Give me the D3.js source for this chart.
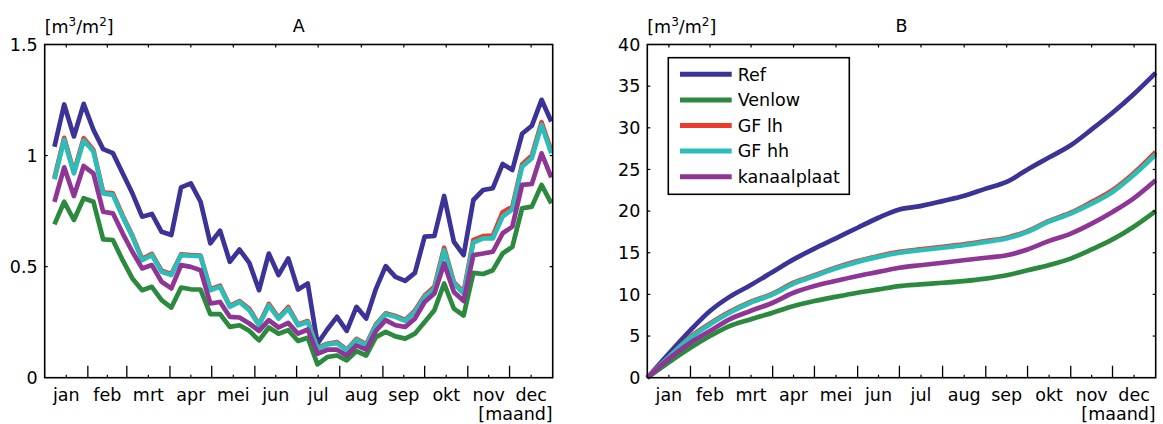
<!DOCTYPE html>
<html>
<head>
<meta charset="utf-8">
<script src="https://cdn.jsdelivr.net/npm/d3@7"></script>
<style>
  body { margin: 0; background: #fff; }
  svg { display: block; font-family: "DejaVu Sans", Verdana, sans-serif; }
</style>
</head>
<body>
<svg id="chart" width="1163" height="424"></svg>
<script>
// maanden
const months = ['jan', 'feb', 'mrt', 'apr', 'mei', 'jun', 'jul', 'aug', 'sep', 'okt', 'nov', 'dec'];
const monthEdges = [0, 31, 59, 90, 120, 151, 181, 212, 243, 273, 304, 334, 365];

const seriesNames = ['Ref', 'Venlow', 'GF lh', 'GF hh', 'kanaalplaat'];
const seriesColors = ['#3b3397', '#2b8a3e', '#ee3a2b', '#2dbdb8', '#8e3595'];

// A: weekwaarden [m3/m2], week 1..52
const weekDays = d3.range(1, 53).map(k => 7 * k);
const refWeek = [1.04, 1.23, 1.086, 1.233, 1.116, 1.029, 1.011, 0.92, 0.83, 0.725,
  0.737, 0.657, 0.642, 0.857, 0.875, 0.792, 0.605, 0.662, 0.522, 0.577,
  0.517, 0.394, 0.559, 0.462, 0.537, 0.397, 0.424, 0.153, 0.217, 0.274,
  0.211, 0.319, 0.266, 0.40, 0.502, 0.454, 0.436, 0.472, 0.635, 0.638,
  0.818, 0.612, 0.552, 0.80, 0.845, 0.853, 0.962, 0.935, 1.098, 1.134, 1.251, 1.153];
const venlowWeek = [0.69, 0.792, 0.71, 0.808, 0.792, 0.623, 0.62, 0.529, 0.447, 0.394,
  0.409, 0.349, 0.316, 0.406, 0.398, 0.397, 0.286, 0.286, 0.229, 0.236,
  0.211, 0.168, 0.226, 0.198, 0.214, 0.165, 0.18, 0.06, 0.093, 0.10,
  0.078, 0.12, 0.10, 0.183, 0.206, 0.186, 0.176, 0.198, 0.251, 0.304,
  0.424, 0.311, 0.28, 0.472, 0.467, 0.484, 0.559, 0.589, 0.762, 0.77, 0.868, 0.785];
const gfLhWeek = [0.90, 1.08, 0.925, 1.078, 1.025, 0.835, 0.83, 0.73, 0.64, 0.535,
  0.557, 0.482, 0.467, 0.555, 0.552, 0.55, 0.398, 0.414, 0.323, 0.345,
  0.31, 0.24, 0.332, 0.27, 0.318, 0.24, 0.255, 0.134, 0.153, 0.16,
  0.126, 0.175, 0.15, 0.24, 0.29, 0.278, 0.26, 0.302, 0.37, 0.41,
  0.585, 0.43, 0.385, 0.62, 0.637, 0.64, 0.745, 0.77, 0.96, 1.0, 1.15, 1.02];
const gfHhWeek = [0.893, 1.071, 0.92, 1.068, 1.018, 0.83, 0.823, 0.725, 0.635, 0.529,
  0.552, 0.477, 0.462, 0.552, 0.549, 0.547, 0.394, 0.409, 0.319, 0.341,
  0.304, 0.236, 0.326, 0.266, 0.311, 0.236, 0.251, 0.131, 0.150, 0.156,
  0.123, 0.171, 0.146, 0.236, 0.286, 0.274, 0.256, 0.296, 0.364, 0.40,
  0.574, 0.424, 0.379, 0.608, 0.627, 0.627, 0.725, 0.758, 0.95, 0.988, 1.138, 1.01];
const kanaalWeek = [0.792, 0.947, 0.818, 0.953, 0.92, 0.747, 0.74, 0.65, 0.567, 0.492,
  0.507, 0.432, 0.402, 0.507, 0.499, 0.484, 0.334, 0.341, 0.274, 0.271,
  0.244, 0.211, 0.259, 0.226, 0.247, 0.198, 0.217, 0.108, 0.126, 0.126,
  0.10, 0.146, 0.126, 0.211, 0.259, 0.236, 0.229, 0.266, 0.341, 0.379,
  0.514, 0.386, 0.345, 0.552, 0.559, 0.567, 0.65, 0.68, 0.868, 0.872, 1.01, 0.902];

// B: cumulatief [m3/m2]
const cumDays = [0, 15, 31, 45, 59, 74, 90, 105, 120, 135, 151, 166, 181,
  196, 212, 227, 243, 258, 273, 288, 304, 319, 334, 349, 365];
const refCum = [0, 2.8, 5.7, 8.0, 9.7, 11.1, 12.7, 14.2, 15.5, 16.7, 18.0, 19.2, 20.2,
  20.6, 21.2, 21.8, 22.7, 23.5, 25.0, 26.4, 27.9, 29.8, 31.8, 34.0, 36.6];
const venlowCum = [0, 1.8, 3.6, 5.0, 6.2, 7.0, 7.8, 8.6, 9.2, 9.7, 10.2, 10.6, 11.0,
  11.2, 11.4, 11.6, 11.9, 12.3, 12.9, 13.5, 14.3, 15.4, 16.6, 18.1, 20.0];
const gfLhCum = [0, 2.4, 4.9, 6.5, 7.9, 9.1, 10.1, 11.4, 12.3, 13.2, 14.0, 14.6, 15.1,
  15.4, 15.7, 16.0, 16.4, 16.8, 17.6, 18.8, 19.8, 21.1, 22.5, 24.5, 27.1];
const gfHhCum = [0, 2.4, 4.8, 6.4, 7.8, 9.0, 10.0, 11.3, 12.2, 13.1, 13.9, 14.5, 15.0,
  15.3, 15.6, 15.9, 16.3, 16.7, 17.5, 18.7, 19.7, 20.9, 22.3, 24.3, 26.8];
const kanaalCum = [0, 2.2, 4.2, 5.6, 7.0, 8.0, 9.0, 10.2, 11.0, 11.6, 12.2, 12.7, 13.2,
  13.5, 13.8, 14.1, 14.4, 14.7, 15.4, 16.4, 17.3, 18.5, 19.9, 21.5, 23.7];

const yTicksA = [0, 0.5, 1, 1.5];
const yTicksB = [0, 5, 10, 15, 20, 25, 30, 35, 40];

const svg = d3.select('#chart');
const plotTop = 44.5, plotBottom = 377.7;
const fontSize = 17.5;

function drawPanel(opts) {
  const x = d3.scaleLinear().domain([0, 365]).range([opts.left, opts.right]);
  const y = d3.scaleLinear().domain(opts.yDomain).range([plotBottom, plotTop]);
  const g = svg.append('g');

  // lijnen
  const line = d3.line().x(d => x(d[0])).y(d => y(d[1]));
  if (opts.curve) line.curve(opts.curve);
  opts.series.forEach((vals, i) => {
    g.append('path')
      .datum(opts.days.map((d, j) => [d, vals[j]]))
      .attr('d', line)
      .attr('fill', 'none')
      .attr('stroke', seriesColors[i])
      .attr('stroke-width', 4.7)
      .attr('stroke-linejoin', 'round')
      .attr('stroke-linecap', 'butt');
  });

  // kader
  g.append('rect')
    .attr('x', opts.left).attr('y', plotTop)
    .attr('width', opts.right - opts.left).attr('height', plotBottom - plotTop)
    .attr('fill', 'none').attr('stroke', '#000').attr('stroke-width', 1.6);

  // maandgrenzen (lange ticks onder)
  g.selectAll('.mtick').data(monthEdges.slice(1, -1)).enter().append('line')
    .attr('x1', d => x(d)).attr('x2', d => x(d))
    .attr('y1', plotBottom).attr('y2', plotBottom - 12)
    .attr('stroke', '#000').attr('stroke-width', 1.3);

  // kleine ticks op midden van maand (boven en onder)
  const mids = months.map((m, i) => (monthEdges[i] + monthEdges[i + 1]) / 2);
  g.selectAll('.ttick').data(mids).enter().append('line')
    .attr('x1', d => x(d)).attr('x2', d => x(d))
    .attr('y1', plotTop).attr('y2', plotTop + 3)
    .attr('stroke', '#000').attr('stroke-width', 1.2);
  g.selectAll('.btick').data(mids).enter().append('line')
    .attr('x1', d => x(d)).attr('x2', d => x(d))
    .attr('y1', plotBottom).attr('y2', plotBottom - 3)
    .attr('stroke', '#000').attr('stroke-width', 1.2);

  // maandlabels
  g.selectAll('.mlabel').data(months).enter().append('text')
    .attr('x', (d, i) => x(mids[i]))
    .attr('y', 401)
    .attr('text-anchor', 'middle')
    .attr('font-size', fontSize)
    .attr('fill', '#000')
    .text(d => d);

  g.append('text')
    .attr('x', opts.right).attr('y', 420)
    .attr('text-anchor', 'end')
    .attr('font-size', fontSize).attr('fill', '#000')
    .text('[maand]');

  // y-as
  g.selectAll('.ylabel').data(opts.yTicks).enter().append('text')
    .attr('x', opts.left - 7)
    .attr('y', d => y(d))
    .attr('dy', '0.36em')
    .attr('text-anchor', 'end')
    .attr('font-size', fontSize).attr('fill', '#000')
    .text(opts.yFormat);
  g.selectAll('.ytickL').data(opts.yTicks.slice(1, -1)).enter().append('line')
    .attr('x1', opts.left).attr('x2', opts.left + 3)
    .attr('y1', d => y(d)).attr('y2', d => y(d))
    .attr('stroke', '#000').attr('stroke-width', 1.2);
  g.selectAll('.ytickR').data(opts.yTicks.slice(1, -1)).enter().append('line')
    .attr('x1', opts.right).attr('x2', opts.right - 3)
    .attr('y1', d => y(d)).attr('y2', d => y(d))
    .attr('stroke', '#000').attr('stroke-width', 1.2);

  // eenheid en titel
  const unit = g.append('text')
    .attr('x', opts.left).attr('y', 33)
    .attr('font-size', fontSize).attr('fill', '#000');
  unit.append('tspan').text('[m');
  unit.append('tspan').attr('font-size', 12).attr('dy', -7).text('3');
  unit.append('tspan').attr('dy', 7).text('/m');
  unit.append('tspan').attr('font-size', 12).attr('dy', -7).text('2');
  unit.append('tspan').attr('dy', 7).text(']');

  g.append('text')
    .attr('x', (opts.left + opts.right) / 2).attr('y', 32)
    .attr('text-anchor', 'middle')
    .attr('font-size', fontSize).attr('fill', '#000')
    .text(opts.title);

  return g;
}

drawPanel({
  left: 44.7, right: 552.7, yDomain: [0, 1.5], yTicks: yTicksA,
  yFormat: d => d, title: 'A', days: weekDays,
  series: [refWeek, venlowWeek, gfLhWeek, gfHhWeek, kanaalWeek]
});

const gB = drawPanel({
  left: 647.3, right: 1155.7, yDomain: [0, 40], yTicks: yTicksB,
  yFormat: d => d, title: 'B', days: cumDays, curve: d3.curveMonotoneX,
  series: [refCum, venlowCum, gfLhCum, gfHhCum, kanaalCum]
});

// legenda
const legend = gB.append('g');
legend.append('rect')
  .attr('x', 668.3).attr('y', 57.7).attr('width', 181).attr('height', 136.6)
  .attr('fill', '#fff').attr('stroke', '#000').attr('stroke-width', 1.6);
const rowY = d3.scalePoint().domain(seriesNames).range([74.3, 176.7]);
seriesNames.forEach((name, i) => {
  legend.append('line')
    .attr('x1', 680).attr('x2', 731.7)
    .attr('y1', rowY(name)).attr('y2', rowY(name))
    .attr('stroke', seriesColors[i]).attr('stroke-width', 5);
  legend.append('text')
    .attr('x', 737.7).attr('y', rowY(name)).attr('dy', '0.36em')
    .attr('font-size', fontSize).attr('fill', '#000')
    .text(name);
});
</script>
</body>
</html>
